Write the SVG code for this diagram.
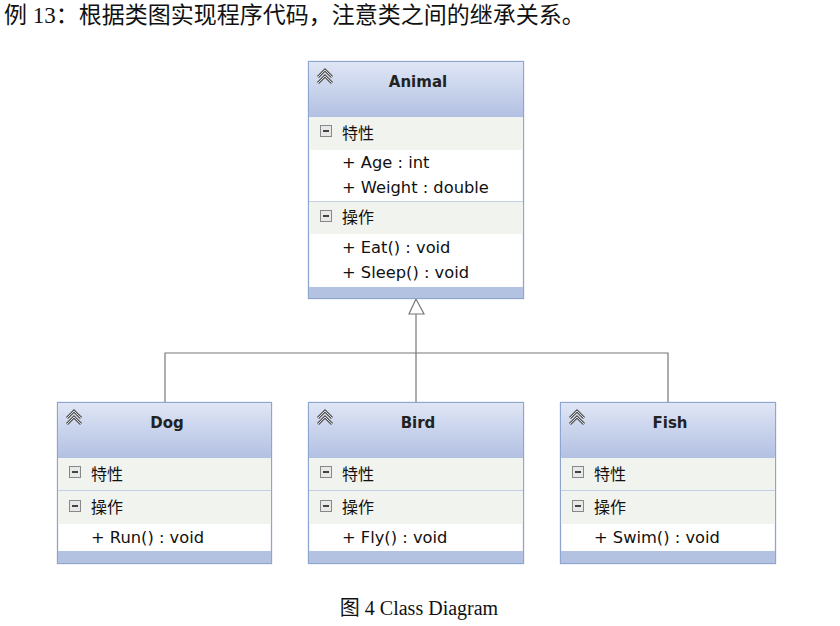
<svg xmlns="http://www.w3.org/2000/svg" width="840" height="626" viewBox="0 0 840 626">
<defs>
<linearGradient id="hg" x1="0" y1="0" x2="0" y2="1"><stop offset="0" stop-color="#dfe6f5"/><stop offset="1" stop-color="#b2c0e2"/></linearGradient>
<g id="chev"><path d="M-7,5 L0,-2 L7,5 M-7,-1 L0,-8 L7,-1" fill="none" stroke="#555" stroke-width="3"/><path d="M-7,5 L0,-2 L7,5 M-7,-1 L0,-8 L7,-1" fill="none" stroke="#ddd" stroke-width="1"/></g>
<g id="minus"><rect x="-5.5" y="-5.5" width="11" height="11" fill="#e8e8e8" stroke="#888" stroke-width="1"/><rect x="-3" y="-1" width="6" height="2" fill="#444"/></g>
</defs>
<style>
.box{fill:#fff;stroke:#8ea6cf;stroke-width:1.3}
.band{fill:#f1f3ee}
.foot{fill:#b4c2e2}
.div{stroke:#c3cfe6;stroke-width:1}
.name{font-family:"DejaVu Sans",Verdana,sans-serif;font-weight:bold;font-size:15px;fill:#222;text-anchor:middle}
.t{font-family:"DejaVu Sans",Verdana,"Noto Sans CJK SC",sans-serif;font-size:16.3px;fill:#111}
.cjk{font-family:"Noto Sans CJK SC",sans-serif;font-size:16px;fill:#111}
.serif{font-family:"Liberation Serif","Noto Sans CJK SC",serif;fill:#111}
.conn{fill:none;stroke:#777;stroke-width:1.2}
</style>
<text class="serif" x="4" y="23" font-size="23">例 13：根据类图实现程序代码，注意类之间的继承关系。</text>
<g id="connectors">
<path class="conn" d="M416,314 V402 M165,402 V353 H668 V402"/>
<path d="M416,299 L409,314 L424,314 Z" fill="#fff" stroke="#777" stroke-width="1.2"/>
</g>
<g id="Animal">
<rect class="box" x="308.5" y="61.5" width="215" height="237"/>
<rect x="309" y="62" width="214" height="55" fill="url(#hg)"/>
<rect class="band" x="309" y="117" width="214" height="33"/>
<rect class="band" x="309" y="202" width="214" height="32"/>
<line class="div" x1="309" y1="201.5" x2="523" y2="201.5"/>
<rect class="foot" x="309" y="287" width="214" height="11"/>
<use href="#chev" x="325" y="78"/>
<text class="name" x="418" y="87">Animal</text>
<use href="#minus" x="326" y="131"/><text class="cjk" x="342" y="139">特性</text>
<text class="t" x="342" y="168">+ Age : int</text>
<text class="t" x="342" y="193">+ Weight : double</text>
<use href="#minus" x="326" y="216"/><text class="cjk" x="342" y="223">操作</text>
<text class="t" x="342" y="253">+ Eat() : void</text>
<text class="t" x="342" y="278">+ Sleep() : void</text>
</g>
<g id="Dog">
<rect class="box" x="57.5" y="402.5" width="214" height="161"/>
<rect x="58" y="403" width="213" height="55" fill="url(#hg)"/>
<rect class="band" x="58" y="458" width="213" height="32"/>
<line class="div" x1="58" y1="490.5" x2="271" y2="490.5"/>
<rect class="band" x="58" y="491" width="213" height="33"/>
<rect class="foot" x="58" y="551" width="213" height="12"/>
<use href="#chev" x="74" y="419"/>
<text class="name" x="167" y="428">Dog</text>
<use href="#minus" x="75" y="472"/><text class="cjk" x="91" y="480">特性</text>
<use href="#minus" x="75" y="506"/><text class="cjk" x="91" y="513">操作</text>
<text class="t" x="91" y="543">+ Run() : void</text>
</g>
<g id="Bird">
<rect class="box" x="308.5" y="402.5" width="215" height="161"/>
<rect x="309" y="403" width="214" height="55" fill="url(#hg)"/>
<rect class="band" x="309" y="458" width="214" height="32"/>
<line class="div" x1="309" y1="490.5" x2="523" y2="490.5"/>
<rect class="band" x="309" y="491" width="214" height="33"/>
<rect class="foot" x="309" y="551" width="214" height="12"/>
<use href="#chev" x="325" y="419"/>
<text class="name" x="418" y="428">Bird</text>
<use href="#minus" x="326" y="472"/><text class="cjk" x="342" y="480">特性</text>
<use href="#minus" x="326" y="506"/><text class="cjk" x="342" y="513">操作</text>
<text class="t" x="342" y="543">+ Fly() : void</text>
</g>
<g id="Fish">
<rect class="box" x="560.5" y="402.5" width="215" height="161"/>
<rect x="561" y="403" width="214" height="55" fill="url(#hg)"/>
<rect class="band" x="561" y="458" width="214" height="32"/>
<line class="div" x1="561" y1="490.5" x2="775" y2="490.5"/>
<rect class="band" x="561" y="491" width="214" height="33"/>
<rect class="foot" x="561" y="551" width="214" height="12"/>
<use href="#chev" x="577" y="419"/>
<text class="name" x="670" y="428">Fish</text>
<use href="#minus" x="578" y="472"/><text class="cjk" x="594" y="480">特性</text>
<use href="#minus" x="578" y="506"/><text class="cjk" x="594" y="513">操作</text>
<text class="t" x="594" y="543">+ Swim() : void</text>
</g>
<text class="serif" x="419" y="615" font-size="20" text-anchor="middle">图 4 Class Diagram</text>
</svg>
